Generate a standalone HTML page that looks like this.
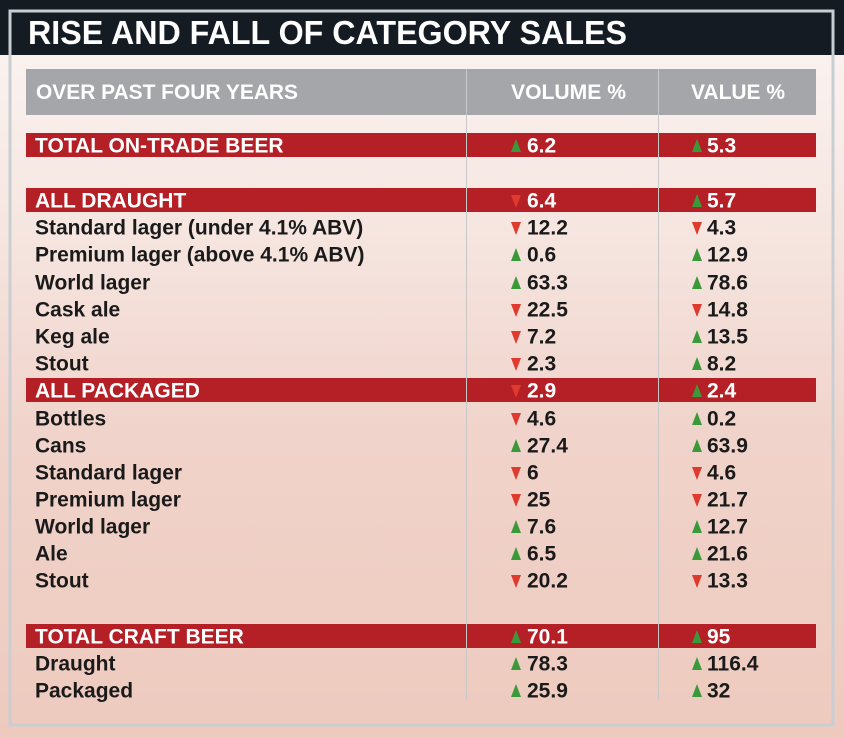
<!DOCTYPE html>
<html><head><meta charset="utf-8"><style>
html,body{margin:0;padding:0;width:844px;height:738px;overflow:hidden}
svg{display:block}
text{font-family:"Liberation Sans",sans-serif;font-weight:bold}
</style></head><body>
<svg width="844" height="738" viewBox="0 0 844 738" xmlns="http://www.w3.org/2000/svg">
<defs>
<linearGradient id="bg" x1="0" y1="0" x2="0" y2="1">
<stop offset="0" stop-color="#fbf6f4"/>
<stop offset="0.3" stop-color="#f6e6e1"/>
<stop offset="0.6" stop-color="#f0d3ca"/>
<stop offset="1" stop-color="#eecabe"/>
</linearGradient>
</defs>
<rect width="844" height="738" fill="url(#bg)"/>
<rect width="844" height="55" fill="#151b22"/>
<rect x="10" y="11" width="823" height="714" fill="none" stroke="#c9ced3" stroke-width="3"/>
<text x="28" y="44" font-size="33" fill="#fff" textLength="599" lengthAdjust="spacingAndGlyphs">RISE AND FALL OF CATEGORY SALES</text>
<rect x="26" y="69" width="790" height="46" fill="#a5a6aa"/>
<text x="36" y="99" font-size="21" fill="#fff" font-weight="normal" textLength="262" lengthAdjust="spacingAndGlyphs">OVER PAST FOUR YEARS</text>
<text x="511" y="99" font-size="21" fill="#fff" font-weight="normal" textLength="115" lengthAdjust="spacingAndGlyphs">VOLUME %</text>
<text x="691" y="99" font-size="21" fill="#fff" font-weight="normal" textLength="94" lengthAdjust="spacingAndGlyphs">VALUE %</text>
<g fill="#b51f26">
<rect x="26" y="133" width="790" height="24"/>
<rect x="26" y="188" width="790" height="24"/>
<rect x="26" y="378" width="790" height="24"/>
<rect x="26" y="624" width="790" height="24"/>
</g>
<g stroke="#c8c8c8" stroke-width="1">
<line x1="466.5" y1="69" x2="466.5" y2="700"/>
<line x1="658.5" y1="69" x2="658.5" y2="700"/>
</g>
<g id="rows" font-size="21"></g>
</svg>
<script>
var rows=[
[145,"TOTAL ON-TRADE BEER",1,"6.2",1,"5.3",1],
[200,"ALL DRAUGHT",1,"6.4",0,"5.7",1],
[227,"Standard lager (under 4.1% ABV)",0,"12.2",0,"4.3",0],
[254,"Premium lager (above 4.1% ABV)",0,"0.6",1,"12.9",1],
[282,"World lager",0,"63.3",1,"78.6",1],
[309,"Cask ale",0,"22.5",0,"14.8",0],
[336,"Keg ale",0,"7.2",0,"13.5",1],
[363,"Stout",0,"2.3",0,"8.2",1],
[390,"ALL PACKAGED",1,"2.9",0,"2.4",1],
[418,"Bottles",0,"4.6",0,"0.2",1],
[445,"Cans",0,"27.4",1,"63.9",1],
[472,"Standard lager",0,"6",0,"4.6",0],
[499,"Premium lager",0,"25",0,"21.7",0],
[526,"World lager",0,"7.6",1,"12.7",1],
[553,"Ale",0,"6.5",1,"21.6",1],
[580,"Stout",0,"20.2",0,"13.3",0],
[636,"TOTAL CRAFT BEER",1,"70.1",1,"95",1],
[663,"Draught",0,"78.3",1,"116.4",1],
[690,"Packaged",0,"25.9",1,"32",1]];
var g=document.getElementById('rows'),h="";
function tri(x,y,up){return up?'<polygon points="'+(x)+','+(y+6)+' '+(x+10)+','+(y+6)+' '+(x+5)+','+(y-7)+'" fill="#3a9a3a"/>':'<polygon points="'+(x)+','+(y-6)+' '+(x+10)+','+(y-6)+' '+(x+5)+','+(y+7)+'" fill="#e03a2f"/>';}
rows.forEach(function(r){
var y=r[0],col=r[2]?"#fff":"#1a1a1a",b=y+7.5;
h+='<text x="35" y="'+b+'" fill="'+col+'">'+r[1]+'</text>';
h+=tri(511,y+1,r[4]);
h+='<text x="527" y="'+b+'" fill="'+col+'">'+r[3]+'</text>';
h+=tri(692,y+1,r[6]);
h+='<text x="707" y="'+b+'" fill="'+col+'">'+r[5]+'</text>';
});
g.innerHTML=h;
</script>
</body></html>
